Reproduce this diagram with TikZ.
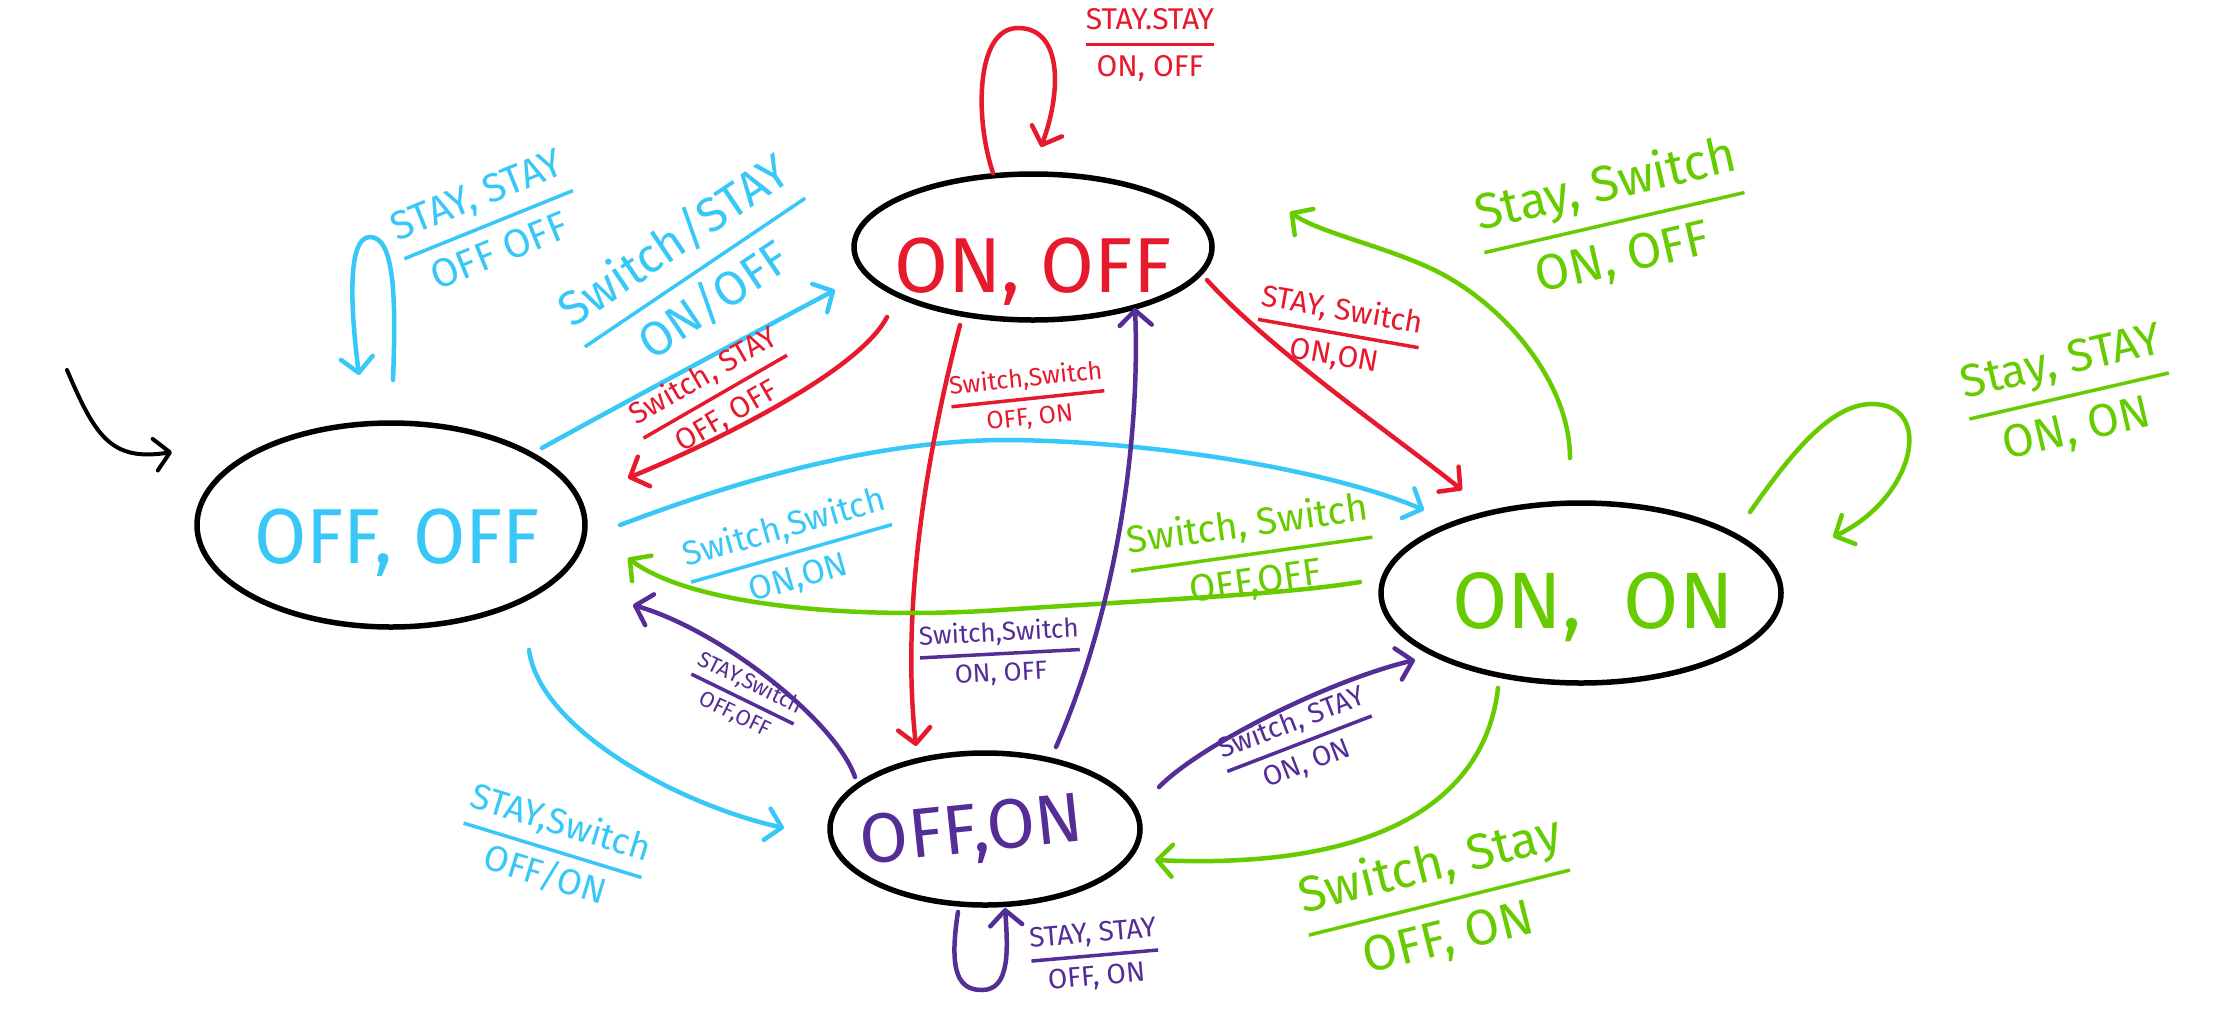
\documentclass[tikz,border=0pt]{standalone}
\usepackage{fontspec}
\setmainfont{Fira Sans}
\usetikzlibrary{arrows.meta,shapes.geometric,calc}
\definecolor{cyanc}{RGB}{56,200,248}
\definecolor{redc}{RGB}{230,25,45}
\definecolor{greenc}{RGB}{102,204,0}
\definecolor{purplec}{RGB}{85,45,150}
\setlength{\arrayrulewidth}{3.5pt}
\newcommand{\frl}[2]{\begin{tabular}{@{}c@{}}#1\\[0.12em]\hline\rule{0pt}{1.0em}#2\end{tabular}}
\newcommand{\fsz}[1]{\fontsize{#1}{#1}\selectfont}
\newcommand{\stxt}[3]{\makebox[0pt]{\hspace*{#1}\raisebox{#2}[0pt][0pt]{#3}}}
\begin{document}
\begin{tikzpicture}[x=1pt,y=-1pt,
  st/.style={ellipse, draw=black, line width=5.5pt, inner sep=0pt},
  conn/.style={line width=4.5pt, line cap=round, -{Straight Barb[length=15pt,width=32pt,round]}},
  lab/.style={inner sep=0pt, align=center}]
\fill[white] (0,0) rectangle (2213,1013);
\useasboundingbox (0,0) rectangle (2213,1013);

% states
\node[st, minimum width=388pt, minimum height=204pt, text=cyanc, font=\fsz{78}] (offoff) at (391,525) {\stxt{12pt}{-38pt}{\scalebox{0.97}[1]{OFF, OFF}}};
\node[st, minimum width=358pt, minimum height=146pt, text=redc, font=\fsz{78}] (onoff) at (1033,247) {\stxt{0pt}{-45pt}{ON, OFF}};
\node[st, minimum width=400pt, minimum height=180pt, text=greenc, font=\fsz{80}] (onon) at (1581,593) {\stxt{24pt}{-35pt}{ON,\ \ ON}};
\node[st, minimum width=310pt, minimum height=152pt, text=purplec, font=\fsz{70}] (offon) at (985,829) {\stxt{-26pt}{-35pt}{\rotatebox{6}{OFF,ON}}};

% initial arrow
\coordinate (init) at (67,370);
\draw[conn, line width=4pt] (init) .. controls (95,435) and (110,462) .. ($(offoff)+(-219,-73)$);

% cyan (from OFF,OFF)
\draw[conn, cyanc] ($(offoff)+(2,-145)$) .. controls (396,300) and (395,237) .. (370,237) .. controls (345,237) and (352,320) .. ($(offoff)+(-32,-150)$);
\draw[conn, cyanc] ($(offoff)+(151,-77)$) .. controls (620,405) and (750,335) .. ($(onoff)+(-198,43)$);
\draw[conn, cyanc] ($(offoff)+(229,0)$) .. controls (700,495) and (850,442) .. (1000,440) .. controls (1150,440) and (1330,470) .. ($(onon)+(-157,-83)$);
\draw[conn, cyanc] ($(offoff)+(138,125)$) .. controls (540,730) and (680,805) .. ($(offon)+(-201,-1)$);

% red (from ON,OFF)
\draw[conn, redc] ($(onoff)+(-40,-74)$) .. controls (975,120) and (975,28) .. (1018,28) .. controls (1062,28) and (1062,90) .. ($(onoff)+(8,-100)$);
\draw[conn, redc] ($(onoff)+(-146,70)$) .. controls (860,370) and (720,440) .. ($(offoff)+(237,-47)$);
\draw[conn, redc] ($(onoff)+(-73,78)$) .. controls (930,440) and (900,600) .. ($(offon)+(-69,-83)$);
\draw[conn, redc] ($(onoff)+(174,33)$) .. controls (1270,350) and (1400,440) .. ($(onon)+(-119,-103)$);

% green (from ON,ON)
\draw[conn, greenc] ($(onon)+(169,-81)$) .. controls (1790,455) and (1830,404) .. (1872,404) .. controls (1935,404) and (1915,498) .. ($(onon)+(252,-56)$);
\draw[conn, greenc] ($(onon)+(-11,-135)$) .. controls (1570,380) and (1500,300) .. (1430,268) .. controls (1380,245) and (1318,232) .. ($(onoff)+(257,-35)$);
\draw[conn, greenc] ($(onon)+(-221,-11)$) .. controls (1280,595) and (1150,600) .. (1000,610) .. controls (850,620) and (690,605) .. ($(offoff)+(237,33)$);
\draw[conn, greenc] ($(onon)+(-83,95)$) .. controls (1485,800) and (1380,870) .. ($(offon)+(170,31)$);

% purple (from OFF,ON)
\draw[conn, purplec] ($(offon)+(-27,83)$) .. controls (948,975) and (960,990) .. (982,990) .. controls (1010,990) and (1008,950) .. ($(offon)+(20,79)$);
\draw[conn, purplec] ($(offon)+(-130,-52)$) .. controls (835,720) and (720,630) .. ($(offoff)+(242,80)$);
\draw[conn, purplec] ($(offon)+(71,-82)$) .. controls (1120,600) and (1140,430) .. ($(onoff)+(102,61)$);
\draw[conn, purplec] ($(offon)+(174,-42)$) .. controls (1200,745) and (1330,680) .. ($(onon)+(-166,67)$);

% labels
\node[lab, text=cyanc, font=\fsz{40}, rotate=22] (l1) at (490,228) {\frl{STAY, STAY}{OFF OFF}};
\node[lab, text=cyanc, font=\fsz{48}, rotate=34] (l2) at (696,274) {\frl{Switch/STAY}{ON/OFF}};
\node[lab, text=cyanc, font=\fsz{34}, rotate=16] (l3) at (792,555) {\frl{Switch,Switch}{ON,ON}};
\node[lab, text=cyanc, font=\fsz{36}, rotate=-17] (l4) at (552,852) {\frl{STAY,Switch}{OFF/ON}};

\node[lab, text=redc, font=\fsz{30}] (l5) at (1150,47) {\frl{STAY.STAY}{ON, OFF}};
\node[lab, text=redc, font=\fsz{30}, rotate=30] (l6) at (716,398) {\frl{Switch, STAY}{OFF, OFF}};
\node[lab, text=redc, font=\fsz{25}, rotate=6] (l7) at (1028,400) {\frl{Switch,Switch}{OFF, ON}};
\node[lab, text=redc, font=\fsz{30}, rotate=-10] (l8) at (1338,335) {\frl{STAY, Switch}{ON,ON}};

\node[lab, text=greenc, font=\fsz{46}, rotate=13] (l9) at (2070,400) {\frl{Stay, STAY}{ON, ON}};
\node[lab, text=greenc, font=\fsz{50}, rotate=13] (l10) at (1615,225) {\frl{Stay, Switch}{ON, OFF}};
\node[lab, text=greenc, font=\fsz{38}, rotate=8] (l11) at (1252,556) {\frl{Switch, Switch}{OFF,OFF}};
\node[lab, text=greenc, font=\fsz{50}, rotate=14] (l12) at (1440,905) {\frl{Switch, Stay}{OFF, ON}};

\node[lab, text=purplec, font=\fsz{28}, rotate=5] (l13) at (1095,958) {\frl{STAY, STAY}{OFF, ON}};
\node[lab, text=purplec, font=\fsz{22}, rotate=-26] (l14) at (742,700) {\frl{STAY,Switch}{OFF,OFF}};
\node[lab, text=purplec, font=\fsz{26}, rotate=3] (l15) at (1000,655) {\frl{Switch,Switch}{ON, OFF}};
\node[lab, text=purplec, font=\fsz{28}, rotate=21] (l16) at (1300,745) {\frl{Switch, STAY}{ON, ON}};
\end{tikzpicture}
\end{document}
